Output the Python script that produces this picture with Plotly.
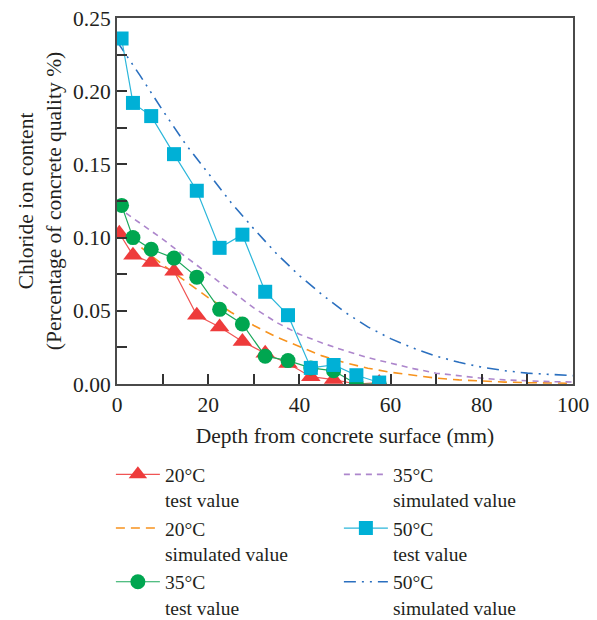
import plotly.graph_objects as go

# ---------------- data ----------------
depth_20_test = [0.5, 3.5, 7.5, 12.5, 17.5, 22.5, 27.5, 32.5, 37.5, 42.5, 47.5, 52.5, 57.5]
chl_20_test = [0.103, 0.088, 0.083, 0.077, 0.047, 0.039, 0.029, 0.021, 0.014, 0.005, 0.003, 0.000, 0.001]

depth_35_test = [1, 3.5, 7.5, 12.5, 17.5, 22.5, 27.5, 32.5, 37.5, 42.5, 47.5, 52.5, 57.5]
chl_35_test = [0.122, 0.100, 0.092, 0.086, 0.073, 0.051, 0.041, 0.019, 0.016, 0.011, 0.009, 0.000, 0.000]

depth_50_test = [1, 3.5, 7.5, 12.5, 17.5, 22.5, 27.5, 32.5, 37.5, 42.5, 47.5, 52.5, 57.5]
chl_50_test = [0.236, 0.192, 0.183, 0.157, 0.132, 0.093, 0.102, 0.063, 0.047, 0.011, 0.013, 0.006, 0.001]

depth_sim = [0, 5, 10, 15, 20, 25, 30, 35, 40, 45, 50, 55, 60, 65, 70, 75, 80, 85, 90, 95, 100]
chl_20_sim = [0.105, 0.094, 0.0815, 0.070, 0.059, 0.049, 0.040, 0.032, 0.0255, 0.0192, 0.0145,
              0.0108, 0.008, 0.0058, 0.004, 0.0028, 0.0019, 0.0013, 0.0009, 0.0006, 0.0005]
chl_35_sim = [0.121, 0.110, 0.099, 0.087, 0.0755, 0.064, 0.052, 0.042, 0.034, 0.028, 0.0227,
              0.018, 0.014, 0.0105, 0.0074, 0.0054, 0.0039, 0.0028, 0.0021, 0.0016, 0.0014]
chl_50_sim = [0.234, 0.211, 0.187, 0.164, 0.144, 0.124, 0.106, 0.089, 0.074, 0.061, 0.049,
              0.039, 0.031, 0.0245, 0.019, 0.0148, 0.0115, 0.0091, 0.0074, 0.0063, 0.0057]

x_tickvals = [0, 20, 40, 60, 80, 100]
y_tickvals = [0.00, 0.05, 0.10, 0.15, 0.20, 0.25]

FONT = "Liberation Serif"
TXT = "#231f20"
AX = "#4a4a4a"

fig = go.Figure()

# simulated curves (drawn below markers)
fig.add_trace(go.Scatter(x=depth_sim, y=chl_20_sim, mode="lines",
                         name="20°C<br>simulated value", legend="legend", legendrank=2,
                         line=dict(color="#f7931e", width=1.6, dash="9px,6px")))
fig.add_trace(go.Scatter(x=depth_sim, y=chl_35_sim, mode="lines",
                         name="35°C<br>simulated value", legend="legend2", legendrank=1,
                         line=dict(color="#ad86cc", width=1.6, dash="6px,5px")))
fig.add_trace(go.Scatter(x=depth_sim, y=chl_50_sim, mode="lines",
                         name="50°C<br>simulated value", legend="legend2", legendrank=3,
                         line=dict(color="#2a6fbf", width=1.6, dash="12px,6px,2px,6px,2px,6px")))

# test values
fig.add_trace(go.Scatter(x=depth_20_test, y=chl_20_test, mode="lines+markers",
                         name="20°C<br>test value", legend="legend", legendrank=1,
                         line=dict(color="#f05454", width=1.2),
                         marker=dict(symbol="triangle-up", size=17, color="#ee3b3b")))
fig.add_trace(go.Scatter(x=depth_35_test, y=chl_35_test, mode="lines+markers",
                         name="35°C<br>test value", legend="legend", legendrank=3,
                         line=dict(color="#1aa85a", width=1.2),
                         marker=dict(symbol="circle", size=15, color="#00a650")))
fig.add_trace(go.Scatter(x=depth_50_test, y=chl_50_test, mode="lines+markers",
                         name="50°C<br>test value", legend="legend2", legendrank=2,
                         line=dict(color="#2bb6da", width=1.2),
                         marker=dict(symbol="square", size=14, color="#00b0d6")))

axis_common = dict(
    showline=True, linecolor=AX, linewidth=2, mirror=True,
    ticks="inside", ticklen=10, tickwidth=1.5, tickcolor="#333333",
    showgrid=False, zeroline=False, automargin=False,
    tickfont=dict(family=FONT, size=21.5, color=TXT),
)

fig.update_layout(
    width=597, height=620,
    margin=dict(l=117, r=24, t=18, b=236, autoexpand=False),
    paper_bgcolor="white", plot_bgcolor="white",
    font=dict(family=FONT, size=21, color=TXT),
    xaxis=dict(range=[0, 100], tickvals=x_tickvals,
               minor=dict(dtick=10, tick0=0, ticks="inside", ticklen=10, tickwidth=1.5, tickcolor="#333333"),
               title=dict(text="Depth from concrete surface (mm)", standoff=12,
                          font=dict(family=FONT, size=21.5, color=TXT)),
               **axis_common),
    yaxis=dict(range=[0, 0.25], tickvals=y_tickvals, tickformat=".2f",
               minor=dict(dtick=0.025, tick0=0, ticks="inside", ticklen=10, tickwidth=1.5, tickcolor="#333333"),
               title=dict(text="Chloride ion content<br>(Percentage of concrete quality %)", standoff=6,
                          font=dict(family=FONT, size=21.5, color=TXT)),
               **axis_common),
    legend=dict(x=-0.0134, y=-0.1945, xanchor="left", yanchor="top", orientation="v",
                valign="top", itemwidth=44, bgcolor="rgba(0,0,0,0)",
                font=dict(family=FONT, size=19.5, color=TXT), tracegroupgap=0),
    legend2=dict(x=0.4866, y=-0.1945, xanchor="left", yanchor="top", orientation="v",
                 valign="top", itemwidth=44, bgcolor="rgba(0,0,0,0)",
                 font=dict(family=FONT, size=19.5, color=TXT), tracegroupgap=0),
    showlegend=True,
)

fig.write_html("out.html", config={"displayModeBar": False},
               post_script="document.body.style.margin='0';document.body.style.padding='0';")
